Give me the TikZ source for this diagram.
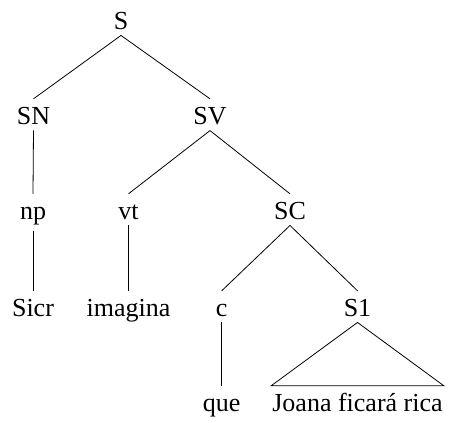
\documentclass[tikz,border=0pt]{standalone}
\usepackage{fontspec}
\setmainfont{Liberation Serif}
\begin{document}
\begin{tikzpicture}[x=1pt,y=1pt,
  tn/.style={font=\fontsize{26}{30}\selectfont, text height=21pt, inner ysep=5pt, inner xsep=1pt, anchor=base},
  edge/.style={line width=0.8pt}]
\useasboundingbox (0,0) rectangle (450,423);
\node[tn] (S) at (121,393) {S};
\node[tn] (SN) at (33.5,298) {SN};
\node[tn] (SV) at (210,298) {SV};
\node[tn] (np) at (33,203) {np};
\node[tn] (vt) at (128.5,203) {vt};
\node[tn] (SC) at (290,203) {SC};
\node[tn] (Sicr) at (33,106) {Sicr};
\node[tn] (imagina) at (128.5,106) {imagina};
\node[tn] (c) at (221.7,106) {c};
\node[tn] (S1) at (357.5,106) {S1};
\node[tn] (que) at (221.7,11) {que};
\node[tn] (J) at (357.5,11) {Joana ficará rica};
\draw[edge] (S.south) -- (SN.north);
\draw[edge] (S.south) -- (SV.north);
\draw[edge] (SN.south) -- (np.north);
\draw[edge] (SV.south) -- (vt.north);
\draw[edge] (SV.south) -- (SC.north);
\draw[edge] (np.south) -- (Sicr.north);
\draw[edge] (vt.south) -- (imagina.north);
\draw[edge] (SC.south) -- (c.north);
\draw[edge] (SC.south) -- (S1.north);
\draw[edge] (c.south) -- (que.north);
\draw[edge] (S1.south) -- (J.north west) -- (J.north east) -- cycle;
\end{tikzpicture}
\end{document}
